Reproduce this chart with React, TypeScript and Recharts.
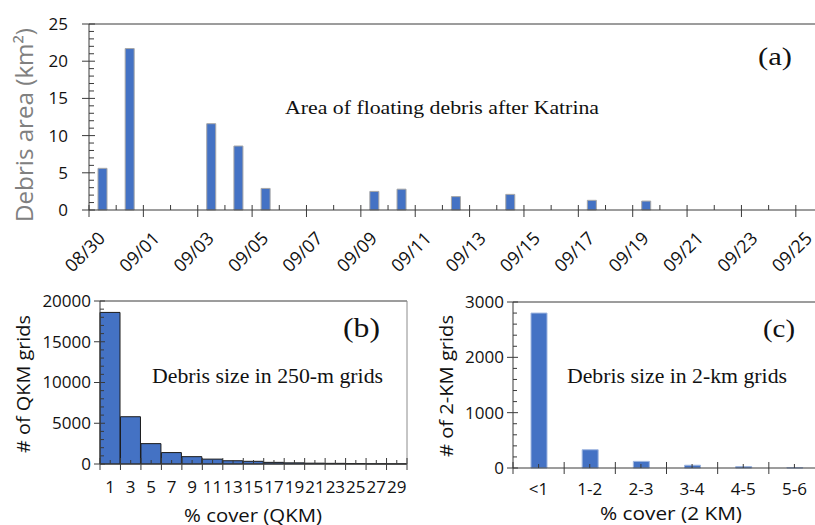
import React from "react";
import { BarChart, Bar, XAxis, YAxis, ReferenceLine } from "recharts";

// (a) floating debris area per day (km2)
const debrisDates = ["08/30", "08/31", "09/03", "09/04", "09/05", "09/09", "09/10", "09/12", "09/14", "09/17", "09/19"];
const debrisArea = [5.6, 21.7, 11.6, 8.6, 2.9, 2.5, 2.8, 1.8, 2.1, 1.3, 1.2];
const dateLabels = ["08/30", "09/01", "09/03", "09/05", "09/07", "09/09", "09/11", "09/13", "09/15", "09/17", "09/19", "09/21", "09/23", "09/25"];
const areaTicks = [0, 5, 10, 15, 20, 25];

// (b) 250-m grids histogram
const qkmBins = ["1", "3", "5", "7", "9", "11", "13", "15", "17", "19", "21", "23", "25", "27", "29"];
const qkmCounts = [18600, 5800, 2500, 1400, 900, 600, 400, 330, 200, 140, 100, 80, 50, 30, 20];
const qkmTicks = [0, 5000, 10000, 15000, 20000];

// (c) 2-km grids
const kmBins = ["<1", "1-2", "2-3", "3-4", "4-5", "5-6"];
const kmCounts = [2800, 330, 120, 50, 25, 5];
const kmTicks = [0, 1000, 2000, 3000];

const BLUE = "#4472C4";
const AXIS = "#3a3a3a";
const INK = "#111";
const SANS = "'Open Sans', sans-serif";
const SERIF = "'Liberation Serif', 'Times New Roman', serif";

const DAY = 86400000;
const dayOf = (md: string) => {
  const [m, d] = md.split("/").map(Number);
  return Math.round((Date.UTC(2005, m - 1, d) - Date.UTC(2005, 7, 30)) / DAY);
};
const range = (a: number, b: number, step = 1) => {
  const out: number[] = [];
  for (let v = a; v <= b + 1e-9; v += step) out.push(Math.round(v * 100) / 100);
  return out;
};

const areaData = debrisDates.map((d, i) => ({ day: dayOf(d) + 0.5, area: debrisArea[i] }));
const labelDays = dateLabels.map(dayOf);
const lastDay = labelDays[labelDays.length - 1] + 1;

const qkmData = qkmBins.map((b, i) => ({ x: Number(b), n: qkmCounts[i] }));
const kmData = kmBins.map((b, i) => ({ x: i + 0.5, n: kmCounts[i] }));

function YTick({ x, y, payload, majors, gap, size, outL, inR, minR }: any) {
  const major = majors.includes(payload.value);
  return (
    <g>
      <line x1={major ? x - outL : x} x2={x + (major ? inR : minR)} y1={y} y2={y} stroke={AXIS} />
      {major && (
        <text x={x - gap} y={y} dy="0.35em" textAnchor="end" fontSize={size} fontFamily={SANS} fill={INK}>
          {payload.value}
        </text>
      )}
    </g>
  );
}

function DateTick({ x, y, payload }: any) {
  const k = labelDays.indexOf(payload.value);
  if (k < 0) return <line x1={x} x2={x} y1={y - 5} y2={y} stroke={AXIS} />;
  return (
    <g>
      <line x1={x} x2={x} y1={y - 5} y2={y + 7} stroke={AXIS} />
      <text transform={`translate(${x - 4},${y + 42}) rotate(-45)`} dy="0.35em" textAnchor="middle" fontSize={18} fontFamily={SANS} fill={INK}>
        {dateLabels[k]}
      </text>
    </g>
  );
}

function BinTick({ x, y, payload, label, dy }: any) {
  const text = label(payload.value);
  if (text == null) return <line x1={x} x2={x} y1={y - 6} y2={y + 6} stroke={AXIS} />;
  return (
    <g>
      <line x1={x} x2={x} y1={y - 4} y2={y} stroke={AXIS} />
      <text x={x} y={y + dy} textAnchor="middle" fontSize={17} fontFamily={SANS} fill={INK}>
        {text}
      </text>
    </g>
  );
}

const qkmLabel = (v: number) => qkmBins.find((b) => Number(b) === v) ?? null;
const kmLabel = (v: number) => (Number.isInteger(v) ? null : kmBins[Math.floor(v)]);

export default function App() {
  return (
    <div style={{ position: "fixed", left: 0, top: 0, width: 815, height: 525, overflow: "hidden", background: "#fff" }}>
      {/* (a) */}
      <div style={{ position: "absolute", left: 0, top: 0 }}>
        <BarChart width={830} height={292} data={areaData} margin={{ top: 24, right: 7, bottom: 32, left: 0 }}>
          <XAxis
            type="number"
            dataKey="day"
            domain={[0, lastDay]}
            ticks={range(0, lastDay)}
            interval={0}
            tickSize={0}
            tickMargin={0}
            tickLine={false}
            axisLine={{ stroke: AXIS }}
            tick={<DateTick />}
            height={50}
          />
          <YAxis
            domain={[0, 25]}
            ticks={range(0, 25)}
            interval={0}
            width={89}
            tickSize={0}
            tickMargin={0}
            tickLine={false}
            axisLine={{ stroke: AXIS }}
            tick={<YTick majors={areaTicks} gap={21} size={17} outL={7} inR={6} minR={5} />}
          />
          <ReferenceLine y={25} stroke={AXIS} />
          <Bar dataKey="area" fill={BLUE} stroke="#a6a6a6" strokeWidth={1} barSize={9} isAnimationActive={false} />
        </BarChart>
      </div>

      {/* (b) */}
      <div style={{ position: "absolute", left: 0, top: 280 }}>
        <BarChart width={420} height={245} data={qkmData} barCategoryGap={0} margin={{ top: 21, right: 13, bottom: 0, left: 0 }}>
          <XAxis
            type="number"
            dataKey="x"
            domain={[0, 30]}
            ticks={range(0, 30)}
            interval={0}
            tickSize={0}
            tickMargin={0}
            tickLine={false}
            axisLine={{ stroke: AXIS }}
            tick={<BinTick label={qkmLabel} dy={29} />}
            height={61}
          />
          <YAxis
            domain={[0, 20000]}
            ticks={range(0, 20000, 1000)}
            interval={0}
            width={100}
            tickSize={0}
            tickMargin={0}
            tickLine={false}
            axisLine={{ stroke: AXIS }}
            tick={<YTick majors={qkmTicks} gap={9} size={17} outL={6} inR={5} minR={4} />}
          />
          <ReferenceLine y={20000} stroke={AXIS} />
          <ReferenceLine x={30} stroke="#8c8c8c" />
          <Bar dataKey="n" fill={BLUE} stroke="#1a1a1a" strokeWidth={1} isAnimationActive={false} />
        </BarChart>
      </div>

      {/* (c) */}
      <div style={{ position: "absolute", left: 420, top: 280 }}>
        <BarChart width={410} height={245} data={kmData} margin={{ top: 22, right: 10, bottom: 0, left: 0 }}>
          <XAxis
            type="number"
            dataKey="x"
            domain={[0, kmBins.length]}
            ticks={range(0, kmBins.length, 0.5)}
            interval={0}
            tickSize={0}
            tickMargin={0}
            tickLine={false}
            axisLine={{ stroke: AXIS }}
            tick={<BinTick label={kmLabel} dy={27} />}
            height={57}
          />
          <YAxis
            domain={[0, 3000]}
            ticks={range(0, 3000, 200)}
            interval={0}
            width={93}
            tickSize={0}
            tickMargin={0}
            tickLine={false}
            axisLine={{ stroke: AXIS }}
            tick={<YTick majors={kmTicks} gap={9} size={17} outL={6} inR={5} minR={4} />}
          />
          <ReferenceLine y={3000} stroke={AXIS} />
          <Bar dataKey="n" fill={BLUE} stroke="#9fb6e0" strokeWidth={1} barSize={16} isAnimationActive={false} />
        </BarChart>
      </div>

      {/* titles and notes */}
      <svg width={815} height={525} style={{ position: "absolute", left: 0, top: 0, pointerEvents: "none" }}>
        <text transform="translate(25,125) rotate(-90)" dy="0.35em" textAnchor="middle" fontSize={23} fontFamily={SANS} fill="#808080" textLength={194} lengthAdjust="spacingAndGlyphs">
          Debris area (km²)
        </text>
        <text x={285} y={114} fontSize={19} fontFamily={SERIF} fill={INK} textLength={314} lengthAdjust="spacingAndGlyphs">
          Area of floating debris after Katrina
        </text>
        <text x={758} y={65} fontSize={26} fontFamily={SERIF} fill={INK} textLength={34} lengthAdjust="spacingAndGlyphs">
          (a)
        </text>

        <text transform="translate(23,384) rotate(-90)" dy="0.35em" textAnchor="middle" fontSize={19} fontFamily={SANS} fill={INK} textLength={138} lengthAdjust="spacingAndGlyphs">
          # of QKM grids
        </text>
        <text x={253} y={522} textAnchor="middle" fontSize={19} fontFamily={SANS} fill={INK} textLength={138} lengthAdjust="spacingAndGlyphs">
          % cover (QKM)
        </text>
        <text x={343} y={337} fontSize={27} fontFamily={SERIF} fill={INK} textLength={37} lengthAdjust="spacingAndGlyphs">
          (b)
        </text>
        <text x={152} y={383} fontSize={20} fontFamily={SERIF} fill={INK} textLength={231} lengthAdjust="spacingAndGlyphs">
          Debris size in 250-m grids
        </text>

        <text transform="translate(446,386) rotate(-90)" dy="0.35em" textAnchor="middle" fontSize={19} fontFamily={SANS} fill={INK} textLength={142} lengthAdjust="spacingAndGlyphs">
          # of 2-KM grids
        </text>
        <text x={671} y={520} textAnchor="middle" fontSize={19} fontFamily={SANS} fill={INK} textLength={142} lengthAdjust="spacingAndGlyphs">
          % cover (2 KM)
        </text>
        <text x={763} y={337} fontSize={25} fontFamily={SERIF} fill={INK} textLength={32} lengthAdjust="spacingAndGlyphs">
          (c)
        </text>
        <text x={567} y={383} fontSize={20} fontFamily={SERIF} fill={INK} textLength={220} lengthAdjust="spacingAndGlyphs">
          Debris size in 2-km grids
        </text>
      </svg>
    </div>
  );
}
